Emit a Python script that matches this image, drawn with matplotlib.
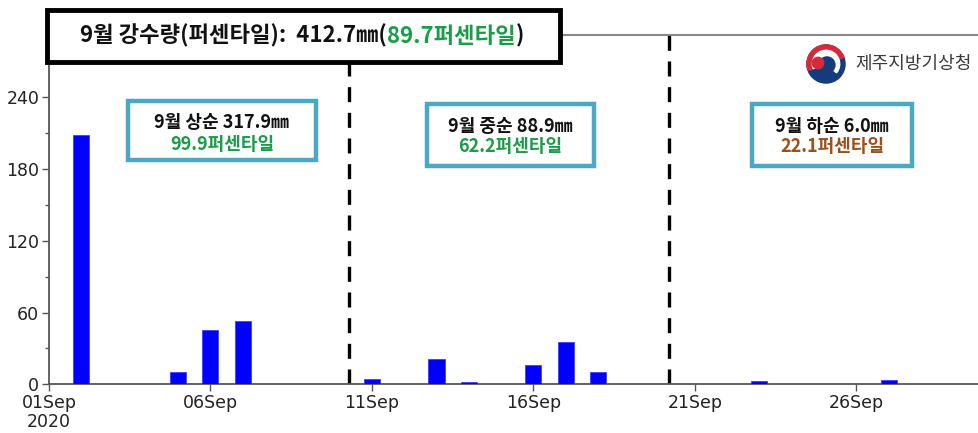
import numpy as np
import matplotlib
matplotlib.use('Agg')
import matplotlib.pyplot as plt
from matplotlib.patches import Rectangle, Wedge, Circle

plt.rcParams['font.family'] = ['Noto Sans CJK KR', 'DejaVu Sans']

# 9월 일강수량 (mm), day of month -> rain
days = [1, 2, 3, 4, 5, 6, 7, 8, 9, 10,
        11, 12, 13, 14, 15, 16, 17, 18, 19, 20,
        21, 22, 23, 24, 25, 26, 27, 28, 29, 30]
rain = [0.0, 208.5, 0.6, 0.0, 10.5, 45.5, 52.5, 0.3, 0.0, 0.0,
        4.5, 0.0, 21.5, 1.8, 0.0, 15.8, 35.3, 10.0, 0.0, 0.0,
        0.0, 0.0, 2.4, 0.0, 0.3, 0.0, 3.3, 0.0, 0.0, 0.0]

tick_days = [1, 6, 11, 16, 21, 26]
tick_labels = ['01Sep\n2020', '06Sep', '11Sep', '16Sep', '21Sep', '26Sep']
y_ticks = [0, 60, 120, 180, 240]
dekad_split = [10.3, 20.2]   # 순 구분선 (day)

title_main = '9월 강수량(퍼센타일):  412.7㎜('
title_pct = '89.7퍼센타일'
dekad_text = ['9월 상순 317.9㎜', '9월 중순 88.9㎜', '9월 하순 6.0㎜']
dekad_pct = ['99.9퍼센타일', '62.2퍼센타일', '22.1퍼센타일']
dekad_col = ['#1a9c48', '#1a9c48', '#9a5218']

W, H = 979, 433
fig = plt.figure(figsize=(W / 100, H / 100), dpi=100)
ax = fig.add_axes([0.05, 0.1125, 0.95, 0.8067])

ax.bar(days, rain, width=0.5, color='#0000ff', edgecolor='#3030ff', linewidth=0.5, zorder=3)

for x in dekad_split:
    ax.axvline(x, color='black', ls=(0, (4.5, 3.2)), lw=2.4, zorder=2)

ax.set_xlim(1, 29.8)
ax.set_ylim(0, 292)
ax.set_xticks(tick_days)
ax.set_xticklabels(tick_labels, fontsize=12.5, family=['DejaVu Sans'], color='#222222',
                   linespacing=1.05, multialignment='center')
ax.set_yticks(y_ticks)
ax.set_yticklabels([str(v) for v in y_ticks], fontsize=12.5, family=['DejaVu Sans'], color='#222222')
ax.set_yticks(np.arange(30, 292, 60), minor=True)
ax.tick_params(axis='both', which='major', direction='out', length=5, width=1, color='#555555', pad=2)
ax.tick_params(axis='y', which='minor', direction='out', length=3, width=1, color='#555555')
for s in ['left', 'bottom']:
    ax.spines[s].set_color('#555555')
    ax.spines[s].set_linewidth(1.3)
ax.spines['top'].set_color('#888888')
ax.spines['top'].set_linewidth(1.5)
ax.spines['right'].set_visible(False)

# 순별 박스
box_px = [(128, 101, 316, 160), (427, 104, 594, 166), (752, 104, 912, 166)]
for i, (x0, y0, x1, y1) in enumerate(box_px):
    fig.patches.append(Rectangle((x0 / W, 1 - y1 / H), (x1 - x0) / W, (y1 - y0) / H,
                                 transform=fig.transFigure, fill=False, edgecolor='#4aa8c4',
                                 linewidth=3.2, zorder=5))
    cx = (x0 + x1) / 2 / W
    fig.text(cx, 1 - (y0 + 22) / H, dekad_text[i], ha='center', va='center', fontsize=13,
             fontweight='bold', color='#111111', zorder=6)
    fig.text(cx, 1 - (y0 + 43) / H, dekad_pct[i], ha='center', va='center', fontsize=13,
             fontweight='bold', color=dekad_col[i], zorder=6)

# 제목 박스
fig.patches.append(Rectangle((47 / W, 1 - 62 / H), (560 - 47) / W, (62 - 10) / H,
                             transform=fig.transFigure, facecolor='white', edgecolor='black',
                             linewidth=3.5, zorder=10))
t1 = fig.text(80 / W, 1 - 36 / H, title_main, ha='left', va='center', fontsize=16,
              fontweight='bold', color='#111111', zorder=11)
fig.canvas.draw()
bb = t1.get_window_extent()
t2 = fig.text(bb.x1 / W, bb.y0 / H, title_pct, fontsize=16, fontweight='bold',
              color='#1a9c48', zorder=11, va='bottom')
fig.canvas.draw()
bb2 = t2.get_window_extent()
fig.text(bb2.x1 / W, bb.y0 / H, ')', fontsize=16, fontweight='bold', color='#111111',
         zorder=11, va='bottom')

# 로고
lax = fig.add_axes([806 / W, 1 - 84 / H, 40 / W, 40 / H])
lax.set_xlim(-1.05, 1.05)
lax.set_ylim(-1.05, 1.05)
lax.set_aspect('equal')
lax.axis('off')
lax.add_patch(Circle((0, 0), 1, color='#143c7c'))
lax.add_patch(Wedge((0, 0), 1, 20, 200, color='#d42a3a'))
lax.add_patch(Wedge((0, 0), 0.72, -40, 200, color='white'))
lax.add_patch(Circle((0.05, -0.05), 0.42, color='#143c7c'))
lax.add_patch(Circle((-0.42, 0.05), 0.3, color='#d42a3a'))
fig.text(855 / W, 1 - 64 / H, '제주지방기상청', ha='left', va='center', fontsize=13,
         color='#3a3a3a')

fig.savefig('out.png', dpi=100)
